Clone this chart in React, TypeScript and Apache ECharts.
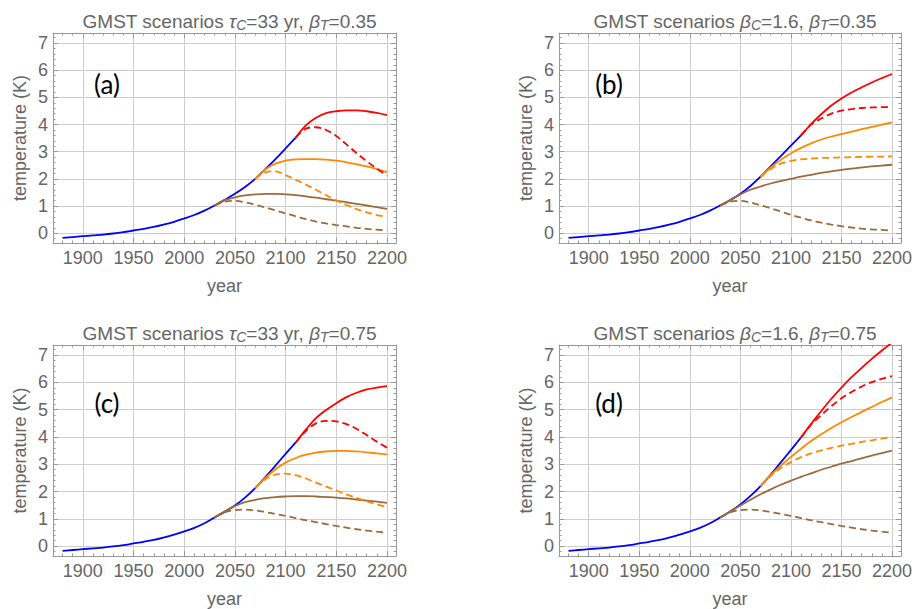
import React, { useEffect, useRef } from "react";
import * as echarts from "echarts";

// ---------------- data ----------------
const blueYears = [1880, 1890, 1900, 1910, 1920, 1930, 1940, 1950, 1960, 1970, 1980, 1990, 2000, 2010, 2020, 2030, 2040, 2050, 2060, 2070, 2080, 2090, 2100, 2110];
const brownYears = [2030, 2040, 2050, 2060, 2070, 2080, 2090, 2100, 2110, 2120, 2130, 2140, 2150, 2160, 2170, 2180, 2190, 2200];
const orangeYears = [2070, 2080, 2090, 2100, 2110, 2120, 2130, 2140, 2150, 2160, 2170, 2180, 2190, 2200];
const redYears = [2110, 2120, 2130, 2140, 2150, 2160, 2170, 2180, 2190, 2200];

const xTickLabels = [1900, 1950, 2000, 2050, 2100, 2150, 2200];
const yTickLabels = [0, 1, 2, 3, 4, 5, 6, 7];

// panel (a)
const blueA = [-0.17, -0.14, -0.11, -0.08, -0.05, -0.01, 0.04, 0.10, 0.16, 0.23, 0.32, 0.42, 0.54, 0.67, 0.83, 1.02, 1.23, 1.45, 1.70, 2.00, 2.36, 2.73, 3.12, 3.52];
const brownSolidA = [1.02, 1.22, 1.32, 1.39, 1.43, 1.45, 1.45, 1.43, 1.40, 1.36, 1.31, 1.25, 1.20, 1.14, 1.08, 1.02, 0.96, 0.90];
const brownDashA = [1.02, 1.16, 1.19, 1.14, 1.05, 0.95, 0.84, 0.73, 0.62, 0.52, 0.43, 0.36, 0.30, 0.25, 0.20, 0.16, 0.13, 0.10];
const orangeSolidA = [2.00, 2.35, 2.56, 2.67, 2.72, 2.73, 2.73, 2.71, 2.67, 2.61, 2.54, 2.46, 2.36, 2.25];
const orangeDashA = [2.00, 2.24, 2.28, 2.14, 1.97, 1.79, 1.60, 1.40, 1.21, 1.04, 0.89, 0.77, 0.67, 0.60];
const redSolidA = [3.52, 3.97, 4.25, 4.42, 4.49, 4.52, 4.52, 4.49, 4.43, 4.35];
const redDashA = [3.52, 3.85, 3.90, 3.80, 3.58, 3.27, 2.95, 2.65, 2.38, 2.12];

// panel (b)
const blueB = [-0.17, -0.14, -0.11, -0.08, -0.05, -0.01, 0.04, 0.10, 0.16, 0.23, 0.32, 0.42, 0.54, 0.67, 0.83, 1.02, 1.22, 1.45, 1.74, 2.08, 2.46, 2.84, 3.22, 3.60];
const brownSolidB = [1.02, 1.21, 1.43, 1.60, 1.72, 1.83, 1.92, 2.00, 2.08, 2.15, 2.22, 2.28, 2.33, 2.38, 2.42, 2.46, 2.49, 2.52];
const brownDashB = [1.02, 1.16, 1.19, 1.13, 1.03, 0.92, 0.80, 0.68, 0.57, 0.47, 0.39, 0.32, 0.26, 0.21, 0.17, 0.14, 0.12, 0.10];
const orangeSolidB = [2.08, 2.42, 2.70, 2.94, 3.14, 3.31, 3.45, 3.56, 3.65, 3.74, 3.83, 3.91, 4.00, 4.08];
const orangeDashB = [2.08, 2.36, 2.56, 2.66, 2.72, 2.75, 2.77, 2.78, 2.79, 2.80, 2.81, 2.82, 2.82, 2.83];
const redSolidB = [3.60, 4.02, 4.38, 4.70, 4.96, 5.18, 5.37, 5.55, 5.71, 5.86];
const redDashB = [3.60, 4.00, 4.22, 4.40, 4.51, 4.57, 4.61, 4.63, 4.64, 4.65];

// panel (c)
const blueC = [-0.17, -0.14, -0.11, -0.08, -0.05, -0.01, 0.04, 0.10, 0.16, 0.23, 0.32, 0.42, 0.54, 0.67, 0.84, 1.05, 1.26, 1.49, 1.78, 2.13, 2.53, 2.95, 3.38, 3.80];
const brownSolidC = [1.05, 1.28, 1.47, 1.61, 1.70, 1.76, 1.80, 1.82, 1.83, 1.83, 1.82, 1.80, 1.78, 1.75, 1.71, 1.67, 1.63, 1.59];
const brownDashC = [1.05, 1.24, 1.32, 1.34, 1.31, 1.25, 1.18, 1.11, 1.03, 0.95, 0.88, 0.81, 0.74, 0.68, 0.62, 0.57, 0.53, 0.50];
const orangeSolidC = [2.13, 2.50, 2.82, 3.06, 3.23, 3.35, 3.43, 3.47, 3.49, 3.49, 3.47, 3.44, 3.40, 3.36];
const orangeDashC = [2.13, 2.45, 2.62, 2.66, 2.60, 2.48, 2.33, 2.18, 2.04, 1.90, 1.77, 1.64, 1.53, 1.44];
const redSolidC = [3.80, 4.27, 4.69, 4.99, 5.24, 5.46, 5.62, 5.74, 5.81, 5.86];
const redDashC = [3.80, 4.22, 4.50, 4.59, 4.57, 4.47, 4.30, 4.07, 3.83, 3.61];

// panel (d)
const blueD = [-0.17, -0.14, -0.11, -0.08, -0.05, -0.01, 0.04, 0.10, 0.16, 0.23, 0.32, 0.42, 0.54, 0.67, 0.84, 1.05, 1.27, 1.53, 1.84, 2.20, 2.62, 3.07, 3.52, 3.98];
const brownSolidD = [1.05, 1.27, 1.49, 1.70, 1.90, 2.08, 2.25, 2.40, 2.54, 2.67, 2.80, 2.91, 3.02, 3.12, 3.22, 3.32, 3.41, 3.50];
const brownDashD = [1.05, 1.24, 1.32, 1.34, 1.31, 1.25, 1.18, 1.11, 1.03, 0.95, 0.88, 0.81, 0.74, 0.68, 0.62, 0.57, 0.53, 0.50];
const orangeSolidD = [2.20, 2.60, 2.95, 3.27, 3.57, 3.85, 4.10, 4.33, 4.54, 4.73, 4.92, 5.10, 5.28, 5.45];
const orangeDashD = [2.20, 2.57, 2.86, 3.08, 3.26, 3.40, 3.51, 3.60, 3.68, 3.75, 3.82, 3.88, 3.94, 4.00];
const redSolidD = [3.98, 4.48, 4.95, 5.40, 5.81, 6.19, 6.53, 6.86, 7.17, 7.46];
const redDashD = [3.98, 4.45, 4.80, 5.13, 5.42, 5.65, 5.85, 6.01, 6.13, 6.23];

const panelTitles = [
  "{n|GMST scenarios }{g|τ}{s|C}{n|=33 yr, }{g|β}{s|T}{n|=0.35}",
  "{n|GMST scenarios }{g|β}{s|C}{n|=1.6, }{g|β}{s|T}{n|=0.35}",
  "{n|GMST scenarios }{g|τ}{s|C}{n|=33 yr, }{g|β}{s|T}{n|=0.75}",
  "{n|GMST scenarios }{g|β}{s|C}{n|=1.6, }{g|β}{s|T}{n|=0.75}",
];
const panelLetters = ["(a)", "(b)", "(c)", "(d)"];

const panels = [
  { blue: blueA, brownSolid: brownSolidA, brownDash: brownDashA, orangeSolid: orangeSolidA, orangeDash: orangeDashA, redSolid: redSolidA, redDash: redDashA },
  { blue: blueB, brownSolid: brownSolidB, brownDash: brownDashB, orangeSolid: orangeSolidB, orangeDash: orangeDashB, redSolid: redSolidB, redDash: redDashB },
  { blue: blueC, brownSolid: brownSolidC, brownDash: brownDashC, orangeSolid: orangeSolidC, orangeDash: orangeDashC, redSolid: redSolidC, redDash: redDashC },
  { blue: blueD, brownSolid: brownSolidD, brownDash: brownDashD, orangeSolid: orangeSolidD, orangeDash: orangeDashD, redSolid: redSolidD, redDash: redDashD },
];

// ---------------- style ----------------
const FONT = "Liberation Sans";
const TXT = "#666666";
const FRAME = "#9a9a9a";
const GRIDC = "#cdcdcd";
const X_MIN = 1870.6;
const X_MAX = 2208.9;
const Y_MIN = -0.36;
const Y_MAX = 7.37;

const GRIDS = [
  { left: 53, top: 33, width: 343, height: 210 },
  { left: 559, top: 33, width: 342, height: 210 },
  { left: 53, top: 345, width: 343, height: 211 },
  { left: 559, top: 345, width: 342, height: 211 },
];
const LETTER_POS = [
  [107, 84],
  [609, 84],
  [107, 403],
  [609, 403],
];

const minorX: number[] = [];
for (let y = 1880; y <= 2200; y += 10) minorX.push(y);
const minorY: number[] = [];
for (let k = -1; k <= 36; k++) minorY.push(Math.round(k * 2) / 10);

function pairs(xs: number[], ys: number[]) {
  return xs.map((x, i) => [x, ys[i]]);
}

function buildOption() {
  const xAxis: any[] = [];
  const yAxis: any[] = [];
  const series: any[] = [];
  const title: any[] = [];
  const graphic: any[] = [];

  GRIDS.forEach((g, i) => {
    const xc = { gridIndex: i, type: "value", min: X_MIN, max: X_MAX };
    const yc = { gridIndex: i, type: "value", min: Y_MIN, max: Y_MAX };
    const xIdx = xAxis.length;
    const yIdx = yAxis.length;
    const line = { show: true, onZero: false, lineStyle: { color: FRAME, width: 1 } };
    const noLine = { show: false, onZero: false };
    const majT = (vals: number[]) => ({ show: true, inside: true, length: 5, customValues: vals, lineStyle: { color: FRAME, width: 1 } });
    const minT = (vals: number[]) => ({ show: true, inside: true, length: 2.5, customValues: vals, lineStyle: { color: FRAME, width: 1 } });
    const fmt = (v: number) => String(Math.round(v));

    xAxis.push({
      ...xc,
      position: "bottom",
      axisLine: line,
      axisTick: majT(xTickLabels),
      axisLabel: { show: true, customValues: xTickLabels, formatter: fmt, color: TXT, fontSize: 18, fontFamily: FONT, margin: 6 },
      splitLine: { show: true, lineStyle: { color: GRIDC, width: 1 } },
      name: "year",
      nameLocation: "middle",
      nameGap: 34,
      nameTextStyle: { color: TXT, fontSize: 18, fontFamily: FONT },
    });
    xAxis.push({ ...xc, position: "bottom", axisLine: noLine, axisTick: minT(minorX), axisLabel: { show: false }, splitLine: { show: false } });
    xAxis.push({ ...xc, position: "top", axisLine: line, axisTick: majT(xTickLabels), axisLabel: { show: false }, splitLine: { show: false } });
    xAxis.push({ ...xc, position: "top", axisLine: noLine, axisTick: minT(minorX), axisLabel: { show: false }, splitLine: { show: false } });

    yAxis.push({
      ...yc,
      position: "left",
      axisLine: line,
      axisTick: majT(yTickLabels),
      axisLabel: { show: true, customValues: yTickLabels, formatter: fmt, color: TXT, fontSize: 18, fontFamily: FONT, margin: 5 },
      splitLine: { show: true, lineStyle: { color: GRIDC, width: 1 } },
      name: "temperature (K)",
      nameLocation: "middle",
      nameRotate: 90,
      nameGap: 24,
      nameTextStyle: { color: TXT, fontSize: 18, fontFamily: FONT },
    });
    yAxis.push({ ...yc, position: "left", axisLine: noLine, axisTick: minT(minorY), axisLabel: { show: false }, splitLine: { show: false } });
    yAxis.push({ ...yc, position: "right", axisLine: line, axisTick: majT(yTickLabels), axisLabel: { show: false }, splitLine: { show: false } });
    yAxis.push({ ...yc, position: "right", axisLine: noLine, axisTick: minT(minorY), axisLabel: { show: false }, splitLine: { show: false } });

    const p = panels[i];
    const mk = (name: string, xs: number[], ys: number[], color: string, dashed: boolean) => ({
      name,
      type: "line",
      xAxisIndex: xIdx,
      yAxisIndex: yIdx,
      data: pairs(xs, ys),
      showSymbol: false,
      smooth: 0.35,
      lineStyle: { color, width: 1.8, type: dashed ? [7, 4] : "solid", cap: "butt" },
      itemStyle: { color },
      z: 3,
    });
    series.push(mk("blue", blueYears, p.blue, "#0000ff", false));
    series.push(mk("brown dashed", brownYears, p.brownDash, "#9c6b3b", true));
    series.push(mk("brown", brownYears, p.brownSolid, "#9c6b3b", false));
    series.push(mk("orange dashed", orangeYears, p.orangeDash, "#ff8800", true));
    series.push(mk("orange", orangeYears, p.orangeSolid, "#ff8800", false));
    series.push(mk("red dashed", redYears, p.redDash, "#ff0000", true));
    series.push(mk("red", redYears, p.redSolid, "#ff0000", false));

    title.push({
      text: panelTitles[i],
      left: g.left + g.width / 2,
      top: g.top - 28,
      textAlign: "center",
      textStyle: {
        fontWeight: "normal",
        fontFamily: FONT,
        rich: {
          n: { fontSize: 19, fontFamily: FONT, fontWeight: "normal", color: TXT, lineHeight: 22 },
          g: { fontSize: 19, fontFamily: FONT, fontWeight: "normal", color: TXT, fontStyle: "italic", lineHeight: 22 },
          s: { fontSize: 14, fontFamily: FONT, fontWeight: "normal", color: TXT, fontStyle: "italic", lineHeight: 14, verticalAlign: "bottom" },
        },
      },
    });

    graphic.push({
      type: "text",
      x: LETTER_POS[i][0],
      y: LETTER_POS[i][1],
      style: {
        text: panelLetters[i],
        fill: "#000000",
        fontSize: 26,
        fontFamily: "Lato",
        align: "center",
        verticalAlign: "middle",
      },
      z: 10,
    });
  });

  return {
    animation: false,
    backgroundColor: "#ffffff",
    textStyle: { fontFamily: FONT },
    grid: GRIDS.map((g) => ({ ...g, containLabel: false })),
    title,
    xAxis,
    yAxis,
    series,
    graphic,
  };
}

export default function App() {
  const ref = useRef<HTMLDivElement>(null);
  useEffect(() => {
    if (!ref.current) return;
    const chart = echarts.init(ref.current, undefined, { renderer: "svg" });
    chart.setOption(buildOption() as any);
    return () => chart.dispose();
  }, []);
  return (
    <div
      ref={ref}
      style={{ position: "absolute", left: 0, top: 0, width: 916, height: 609, background: "#fff" }}
    />
  );
}
